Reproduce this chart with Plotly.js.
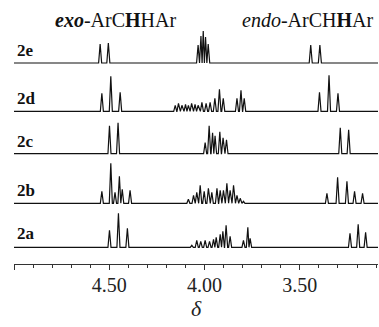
<!DOCTYPE html>
<html>
<head>
<meta charset="utf-8">
<script src="https://cdn.plot.ly/plotly-3.0.1.min.js"></script>
<style>html,body{margin:0;padding:0;background:#fff;}#chart{width:379px;height:327px;}</style>
</head>
<body>
<div id="chart"></div>
<script>
// Compound labels (top to bottom)
const compounds = ['2e', '2d', '2c', '2b', '2a'];

// Peak lists: chemical shift (ppm) and relative intensity
const ppm_2e = [4.548, 4.505, 4.034, 4.019, 4.007, 3.995, 3.981, 3.443, 3.395];
const int_2e = [19, 20, 18, 27, 32, 26, 19, 18, 18];

const ppm_2d = [4.539, 4.492, 4.443, 4.154, 4.137, 4.119, 4.100, 4.085, 4.068, 4.050, 4.034, 4.014, 3.992, 3.971, 3.946, 3.922, 3.902, 3.830, 3.809, 3.792, 3.397, 3.347, 3.300];
const int_2d = [18, 35, 19, 6, 8, 6, 7, 6, 8, 7, 6, 9, 8, 9, 13, 22, 13, 13, 21, 13, 19, 36, 18];

const ppm_2c = [4.499, 4.454, 3.997, 3.976, 3.958, 3.945, 3.920, 3.903, 3.885, 3.288, 3.244];
const int_2c = [28, 31, 11, 28, 21, 18, 22, 16, 14, 26, 24];

const ppm_2b = [4.539, 4.492, 4.470, 4.447, 4.432, 4.391, 4.085, 4.058, 4.041, 4.023, 4.002, 3.980, 3.962, 3.935, 3.918, 3.901, 3.883, 3.866, 3.848, 3.830, 3.813, 3.796, 3.358, 3.302, 3.253, 3.213, 3.171];
const int_2b = [12, 40, 11, 27, 14, 13, 4, 8, 11, 18, 12, 15, 11, 15, 13, 13, 20, 13, 18, 8, 5, 2, 10, 26, 22, 12, 10];

const ppm_2a = [4.499, 4.452, 4.405, 4.067, 4.041, 4.020, 3.997, 3.974, 3.953, 3.939, 3.918, 3.904, 3.887, 3.866, 3.796, 3.773, 3.761, 3.237, 3.194, 3.155];
const int_2a = [17, 34, 19, 2, 7, 6, 7, 6, 8, 10, 13, 16, 22, 11, 7, 20, 9, 14, 23, 15];

// Axis tick values / labels
const tickVals = [5.0, 4.5, 4.0, 3.5];
const tickText = ['', '4.50', '4.00', '3.50'];

const peakLists = {
  '2e': [ppm_2e, int_2e],
  '2d': [ppm_2d, int_2d],
  '2c': [ppm_2c, int_2c],
  '2b': [ppm_2b, int_2b],
  '2a': [ppm_2a, int_2a]
};

// Layout (styling): vertical offset of each trace baseline, in plot units (px)
const offsets = {'2e': 201, '2d': 152.7, '2c': 110.3, '2b': 60.7, '2a': 16.7};
const xMin = 5.0, xMax = 3.09;
const hw = 0.008; // half width of drawn peak foot

function buildTrace(name) {
  const p = peakLists[name][0], h = peakLists[name][1];
  const idx = p.map((v, i) => i).sort((a, b) => p[b] - p[a]);
  const base = offsets[name];
  const xs = [xMin], ys = [base];
  idx.forEach((i, k) => {
    const prev = k > 0 ? p[idx[k - 1]] : null;
    const next = k < idx.length - 1 ? p[idx[k + 1]] : null;
    const left = prev !== null ? Math.min(p[i] + hw, (p[i] + prev) / 2) : p[i] + hw;
    const right = next !== null ? Math.max(p[i] - hw, (p[i] + next) / 2) : p[i] - hw;
    xs.push(left, p[i], right);
    ys.push(base, base + h[i], base);
  });
  xs.push(xMax); ys.push(base);
  return {x: xs, y: ys, type: 'scatter', mode: 'lines',
          line: {color: '#111', width: 1.2}, hoverinfo: 'skip', showlegend: false};
}

const data = compounds.map(buildTrace);

const SERIF = 'Liberation Serif';
const L = 14, W = 364, H = 264;
const px2paper = px => (px - L) / W;
const py2paper = py => 1 - py / H;
const labelPix = {'2e': 51, '2d': 98, '2c': 141, '2b': 190, '2a': 233};

const annotations = compounds.map(c => ({
  text: '<b>' + c + '</b>', xref: 'paper', yref: 'paper',
  x: px2paper(15), y: py2paper(labelPix[c]), xanchor: 'left', yanchor: 'middle',
  showarrow: false, font: {family: SERIF, size: 17, color: '#111'}
}));
annotations.push({
  text: '<b><i>exo</i></b>-ArC<b>H</b>HAr', xref: 'paper', yref: 'paper',
  x: px2paper(53), y: py2paper(33), xanchor: 'left', yanchor: 'bottom',
  showarrow: false, font: {family: SERIF, size: 20, color: '#111'}
});
annotations.push({
  text: '<i>endo</i>-ArCH<b>H</b>Ar', xref: 'paper', yref: 'paper',
  x: px2paper(375), y: py2paper(33), xanchor: 'right', yanchor: 'bottom',
  showarrow: false, font: {family: SERIF, size: 20, color: '#111'}
});

const layout = {
  width: 379, height: 327,
  margin: {l: L, r: 379 - L - W, t: 0, b: 327 - H, pad: 0},
  paper_bgcolor: '#fff', plot_bgcolor: '#fff',
  xaxis: {
    range: [xMin, xMax], showgrid: false, zeroline: false,
    showline: true, linecolor: '#333', linewidth: 1,
    ticks: 'outside', ticklen: 5, tickwidth: 1, tickcolor: '#333',
    tickmode: 'array', tickvals: tickVals, ticktext: tickText,
    ticklabelstandoff: -2,
    tickfont: {family: SERIF, size: 20, color: '#222'},
    minor: {dtick: 0.1, ticks: 'outside', ticklen: 3, tickwidth: 1, tickcolor: '#333', showgrid: false},
    title: {text: '<i>δ</i>', font: {family: SERIF, size: 22, color: '#222'}, standoff: 4}
  },
  yaxis: {range: [0, H], visible: false, fixedrange: true},
  annotations: annotations
};

Plotly.newPlot('chart', data, layout, {displayModeBar: false, staticPlot: true});
</script>
</body>
</html>
